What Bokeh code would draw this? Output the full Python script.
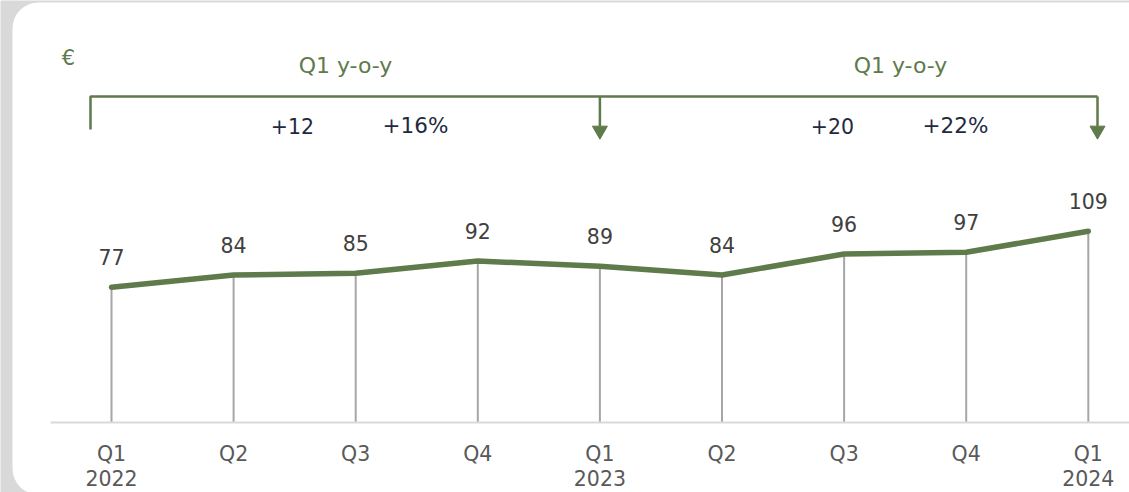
from bokeh.plotting import figure
from bokeh.models import LinearAxis, FixedTicker, Range1d
from bokeh.core.properties import value
from bokeh.embed import file_html
from bokeh.resources import INLINE

quarters = ["Q1\n2022", "Q2", "Q3", "Q4", "Q1\n2023", "Q2", "Q3", "Q4", "Q1\n2024"]
values = [77, 84, 85, 92, 89, 84, 96, 97, 109]
unit_label = "€"
bracket_labels = ["Q1 y-o-y", "Q1 y-o-y"]
abs_changes = ["+12", "+20"]
pct_changes = ["+16%", "+22%"]

GREEN = "#5f7a4b"
FONT = "DejaVu Sans"
FS = "20px"

W, H = 1129, 492
px_x = 122.1    # pixels per category step
px_y = 1.75     # pixels per euro
x0_px = 111     # pixel distance from figure left to first category
zero_px = 421.5 # pixel distance from figure top to zero line

xs = list(range(len(values)))
x_start = -x0_px / px_x
x_end = x_start + W / px_x
y_end = zero_px / px_y
y_start = y_end - H / px_y

def X(px):  # figure-pixel -> data x
    return x_start + px / px_x

def Y(px):  # figure-pixel -> data y
    return y_end - px / px_y

p = figure(width=W, height=H, output_backend="svg", toolbar_location=None,
           x_range=Range1d(x_start, x_end), y_range=Range1d(y_start, y_end),
           x_axis_location=None, y_axis_location=None, min_border=0,
           background_fill_color="#d9d9d9", border_fill_color="#d9d9d9")
p.outline_line_color = None
p.grid.visible = False

# white card
p.quad(left=[X(12)], right=[X(W + 60)], top=[Y(2)], bottom=[Y(H + 2)],
       fill_color="white", line_color=None, border_radius=26)

# x axis drawn at zero
ax = LinearAxis(ticker=FixedTicker(ticks=xs),
                major_label_overrides={i: q for i, q in enumerate(quarters)},
                fixed_location=0, bounds=(X(50), X(W + 20)))
ax.axis_line_color = "#d9d9d9"
ax.axis_line_width = 2
ax.major_tick_line_color = None
ax.minor_tick_line_color = None
ax.major_label_standoff = 14
ax.major_label_text_font = FONT
ax.major_label_text_font_size = "20.5px"
ax.major_label_text_color = "#595959"
ax.major_label_text_line_height = 1.05
p.add_layout(ax, "below")

# drop lines
p.segment(x0=xs, y0=[0] * len(xs), x1=xs, y1=values, line_color="#a6a6a6", line_width=2)
# main line
p.line(xs, values, line_color=GREEN, line_width=5.5, line_cap="round", line_join="round")
# value labels
p.text(xs, values, text=[str(v) for v in values], y_offset=-30, text_align="center",
       text_baseline="middle", text_font=value(FONT), text_font_size="20.5px",
       text_color="#404040")

# brackets
y_br = Y(96)
x_left = X(90)
x_mid = xs[4]
x_right = X(1097)
p.line([x_left, x_left, x_right], [Y(129), y_br, y_br], line_color=GREEN, line_width=2.5)
p.segment(x0=[x_mid, x_right], y0=[y_br, y_br], x1=[x_mid, x_right], y1=[Y(126), Y(126)],
          line_color=GREEN, line_width=2.5)
p.scatter([x_mid, x_right], [Y(130), Y(130)], marker="inverted_triangle", size=15,
          fill_color=GREEN, line_color=GREEN)

# bracket titles
p.text([X(345), X(900)], [Y(65), Y(65)], text=bracket_labels, text_align="center",
       text_baseline="middle", text_font=value(FONT), text_font_size="22px", text_color=GREEN)
p.text([X(68)], [Y(57)], text=[unit_label], text_align="center", text_baseline="middle",
       text_font=value(FONT), text_font_size="21px", text_color=GREEN)
# changes
p.text([X(292), X(832)], [Y(125), Y(125)], text=abs_changes, text_align="center",
       text_baseline="middle", text_font=value(FONT), text_font_size="20.5px",
       text_color="#1f2a40")
p.text([X(415), X(955)], [Y(125), Y(125)], text=pct_changes, text_align="center",
       text_baseline="middle", text_font=value(FONT), text_font_size="21.5px",
       text_color="#1f2a40")

open("out.html", "w").write(file_html(p, INLINE))
